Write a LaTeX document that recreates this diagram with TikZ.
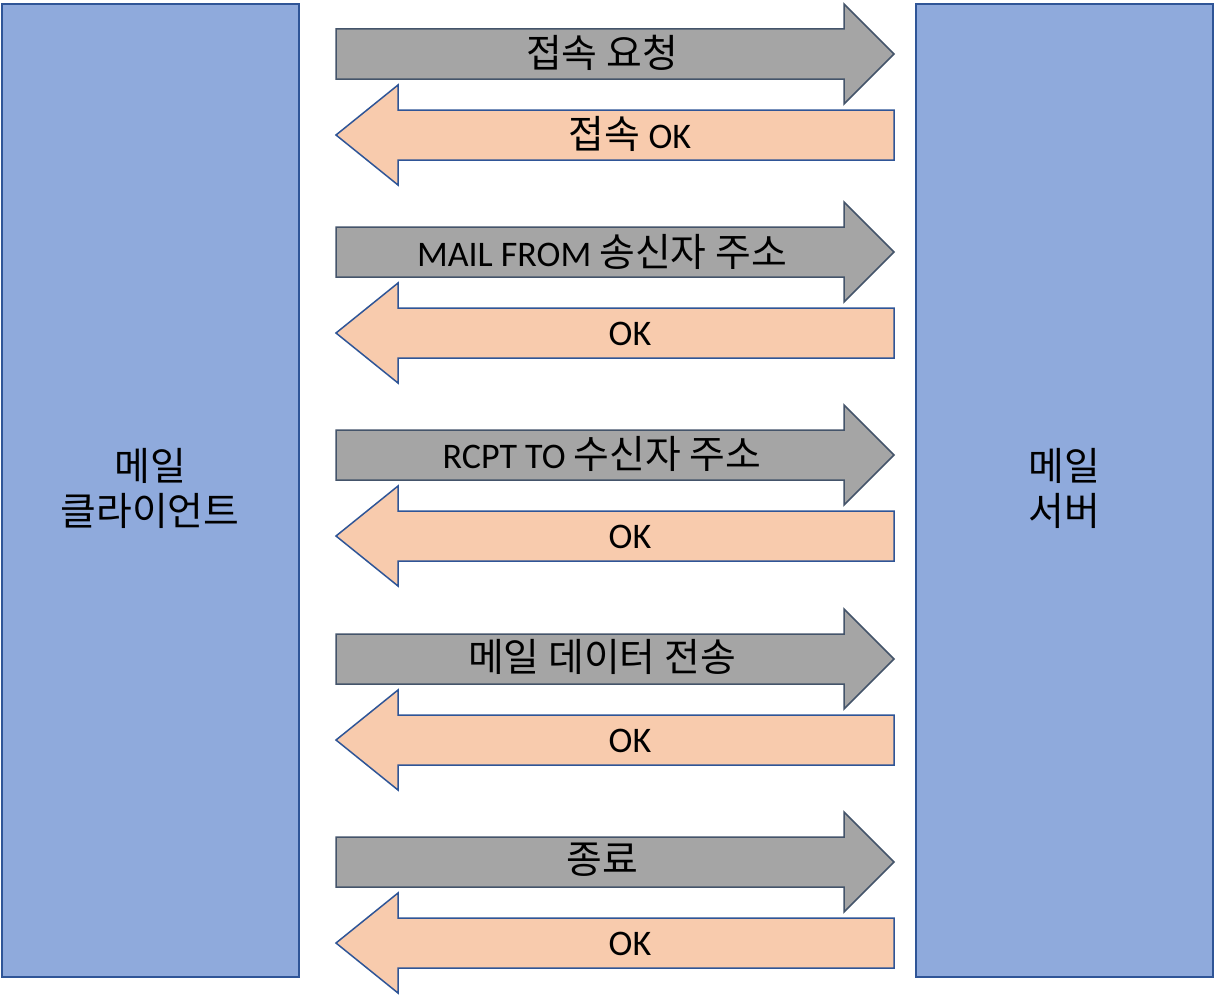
\documentclass[tikz,border=0pt]{standalone}
\usepackage{fontspec}
\setmainfont{Carlito}
\newfontfamily\krfont{Noto Sans CJK KR}[Scale=1.08]
\newcommand{\kr}[1]{{\krfont #1}}
\definecolor{boxfill}{HTML}{8FAADC}
\definecolor{boxline}{HTML}{2F5597}
\definecolor{grayfill}{HTML}{A5A5A5}
\definecolor{grayline}{HTML}{44546A}
\definecolor{peachfill}{HTML}{F8CBAD}
\definecolor{peachline}{HTML}{2F5597}
\tikzset{
  sidebox/.style={draw=boxline, fill=boxfill, line width=2pt},
  reqarrow/.style={draw=grayline, fill=grayfill, line width=1.5pt, line join=miter},
  resarrow/.style={draw=peachline, fill=peachfill, line width=1.5pt, line join=miter},
  lbl/.style={inner sep=0pt, font=\fontsize{36}{46}\selectfont, text=black},
  sidelbl/.style={inner sep=0pt, align=center, font=\fontsize{36}{45}\selectfont, text=black},
}
\newcommand{\reqarr}[1]{\path[reqarrow] (336,#1-25) -- (844,#1-25) -- (844,#1-50) -- (894,#1) -- (844,#1+50) -- (844,#1+25) -- (336,#1+25) -- cycle;}
\newcommand{\resarr}[1]{\path[resarrow] (894,#1-25) -- (398,#1-25) -- (398,#1-50) -- (336,#1) -- (398,#1+50) -- (398,#1+25) -- (894,#1+25) -- cycle;}
\begin{document}
\begin{tikzpicture}[x=1pt, y=-1pt]
\useasboundingbox (0,0) rectangle (1214,998);
\fill[white] (0,0) rectangle (1214,998);
\path[sidebox] (2,4) rectangle (299,977);
\path[sidebox] (916,4) rectangle (1213,977);
\node[sidelbl] (client) at (150,488) {\kr{메일}\\\kr{클라이언트}};
\node[sidelbl] (server) at (1064,488) {\kr{메일}\\\kr{서버}};
\reqarr{54}
\resarr{135}
\reqarr{252}
\resarr{333}
\reqarr{455}
\resarr{536}
\reqarr{659}
\resarr{740}
\reqarr{862}
\resarr{943}
\node[lbl] (r1) at (602,53) {\kr{접속 요청}};
\node[lbl] (a1) at (630,134) {\kr{접속} OK};
\node[lbl] (r2) at (602,252) {MAIL FROM \kr{송신자 주소}};
\node[lbl] (a2) at (630,334) {OK};
\node[lbl] (r3) at (602,454) {RCPT TO \kr{수신자 주소}};
\node[lbl] (a3) at (630,537) {OK};
\node[lbl] (r4) at (602,657) {\kr{메일 데이터 전송}};
\node[lbl] (a4) at (630,741) {OK};
\node[lbl] (r5) at (602,860) {\kr{종료}};
\node[lbl] (a5) at (630,944) {OK};
\end{tikzpicture}
\end{document}
